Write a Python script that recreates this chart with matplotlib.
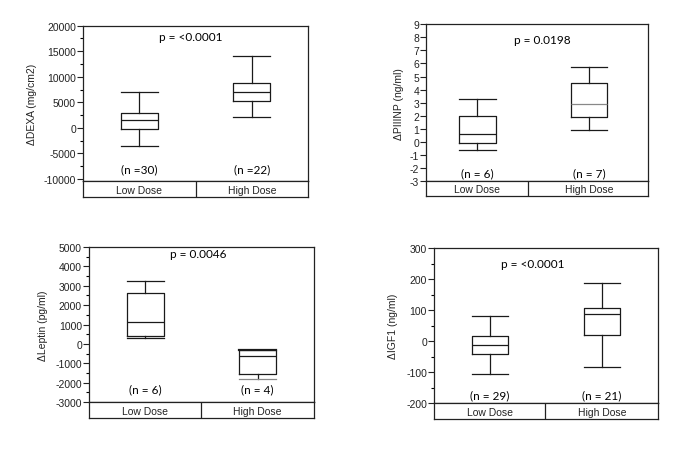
import matplotlib.pyplot as plt
from matplotlib.ticker import MultipleLocator

plt.rcParams["axes.unicode_minus"] = False

# categories
groups = ["Low Dose", "High Dose"]

# DEXA (mg/cm2)
dexa_lo = [-3500, 2100]
dexa_q1 = [-200, 5200]
dexa_med = [1500, 7000]
dexa_q3 = [2900, 8800]
dexa_hi = [7000, 14000]
dexa_n = ["(n =30)", "(n =22)"]

# PIIINP (ng/ml)
piiinp_lo = [-0.6, 0.9]
piiinp_q1 = [-0.1, 1.9]
piiinp_med = [0.6, 2.9]
piiinp_q3 = [1.95, 4.5]
piiinp_hi = [3.3, 5.75]
piiinp_n = ["(n = 6)", "(n = 7)"]

# Leptin (pg/ml)
leptin_lo = [300, -1800]
leptin_q1 = [400, -1550]
leptin_med = [1150, -650]
leptin_q3 = [2650, -300]
leptin_hi = [3250, -300]
leptin_n = ["(n = 6)", "(n = 4)"]

# IGF1 (ng/ml)
igf1_lo = [-106, -85]
igf1_q1 = [-42, 20]
igf1_med = [-12, 88]
igf1_q3 = [15, 107]
igf1_hi = [82, 187]
igf1_n = ["(n = 29)", "(n = 21)"]

W, H = 685, 456
fig = plt.figure(figsize=(W / 100, H / 100), dpi=100)

tick_font = "Liberation Sans"
text_font = "Lato"


def px_axes(x0, y0, x1, y1):
    return fig.add_axes([x0 / W, 1 - y1 / H, (x1 - x0) / W, (y1 - y0) / H])


def panel(box, strip_bottom, lo, q1, med, q3, hi, ntext, ylabel, ylim, xlim,
          major, minor, divider, ptext, ppos, ny, label_x):
    x0, y0, x1, y1 = box
    ax = px_axes(x0, y0, x1, y1)
    stats = []
    for i in range(len(groups)):
        stats.append(dict(whislo=lo[i], q1=q1[i], med=med[i], q3=q3[i],
                          whishi=hi[i], fliers=[], label=groups[i]))
    pos = [1, 2]
    art = ax.bxp(stats, positions=pos, widths=0.33, capwidths=0.33,
                 showfliers=False,
                 boxprops=dict(color="#1a1a1a", lw=0.9),
                 whiskerprops=dict(color="#1a1a1a", lw=0.9),
                 capprops=dict(color="#1a1a1a", lw=0.9),
                 medianprops=dict(color="#1a1a1a", lw=0.9))
    ax.set_xlim(*xlim)
    ax.set_ylim(*ylim)
    ax.set_xticks([])
    ax.yaxis.set_major_locator(MultipleLocator(major))
    if minor:
        ax.yaxis.set_minor_locator(MultipleLocator(minor))
    ax.tick_params(axis="y", which="major", length=4, width=0.8, pad=1,
                   labelsize=7.5, colors="#222222")
    ax.tick_params(axis="y", which="minor", length=2, width=0.8)
    for lab in ax.get_yticklabels():
        lab.set_fontfamily(tick_font)
    for s in ax.spines.values():
        s.set_linewidth(0.9)
        s.set_color("#222222")
    ax.set_ylabel(ylabel, fontsize=7.5, family=tick_font, color="#222222")
    ax.yaxis.set_label_coords((label_x + 5 - x0) / (x1 - x0), 0.5)
    ax.text(ppos[0], ppos[1], ptext, transform=ax.transAxes, ha="center",
            va="center", fontsize=8.5, family=text_font)
    for p, t in zip(pos, ntext):
        ax.text(p, ny, t, transform=ax.get_xaxis_transform(), ha="center",
                va="center", fontsize=8.5, family=text_font)

    sx = px_axes(x0, y1, x1, strip_bottom)
    sx.set_xlim(*xlim)
    sx.set_ylim(0, 1)
    sx.set_xticks([])
    sx.set_yticks([])
    for s in sx.spines.values():
        s.set_linewidth(0.9)
        s.set_color("#222222")
    sx.axvline(xlim[0] + divider * (xlim[1] - xlim[0]), color="#222222", lw=0.9)
    for p, g in zip(pos, groups):
        sx.text(p, 0.45, g, ha="center", va="center", fontsize=7.5,
                family=tick_font, color="#222222")
    return ax, art


panel((83, 26.7, 308, 182), 198, dexa_lo, dexa_q1, dexa_med, dexa_q3, dexa_hi,
      dexa_n, "ΔDEXA (mg/cm2)", (-10390, 20000), (0.5, 2.5), 5000, 2500, 0.50,
      "p = <0.0001", (0.48, 0.93), 0.08, 32)

ax2, art2 = panel((426, 25.3, 648, 182), 197, piiinp_lo, piiinp_q1, piiinp_med,
                  piiinp_q3, piiinp_hi, piiinp_n, "ΔPIIINP (ng/ml)", (-3, 9),
                  (0.538, 2.53), 1, None, 0.458, "p = 0.0198", (0.525, 0.90),
                  0.05, 399)
art2["medians"][1].set_color("#888888")

ax3, art3 = panel((89, 248, 314, 403), 419, leptin_lo, leptin_q1, leptin_med,
                  leptin_q3, leptin_hi, leptin_n, "ΔLeptin (pg/ml)",
                  (-3000, 5000), (0.5, 2.5), 1000, 500, 0.50, "p = 0.0046",
                  (0.485, 0.96), 0.085, 43)
art3["caps"][2].set_color("#888888")
art3["caps"][3].set_linewidth(1.6)

panel((434, 249, 658, 404), 420, igf1_lo, igf1_q1, igf1_med, igf1_q3, igf1_hi,
      igf1_n, "ΔIGF1 (ng/ml)", (-200, 300), (0.5, 2.5), 100, 50, 0.497,
      "p = <0.0001", (0.44, 0.90), 0.05, 393)

fig.savefig("out.png", dpi=100)
